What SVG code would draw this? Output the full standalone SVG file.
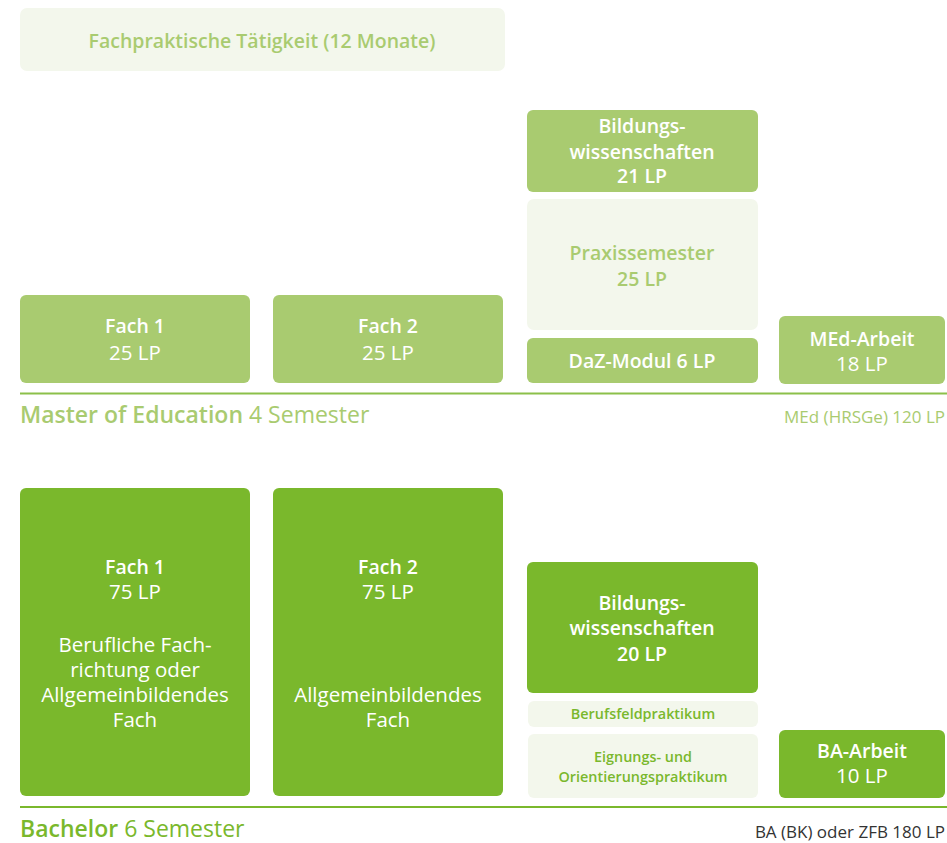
<svg xmlns="http://www.w3.org/2000/svg" width="947" height="843" viewBox="0 0 947 843">
<style>
text{font-family:"Open Sans",Lato,"Liberation Sans",sans-serif;text-anchor:middle}
.m{fill:#a9cb70}
.b{fill:#7ab82c}
.l{fill:#f3f7ec}
.w{fill:#ffffff}
.tb{font-weight:600;font-size:19.5px}
.tn{font-weight:400;font-size:20.5px}
.gm{fill:#a9cb70}
.gb{fill:#7ab82c}
.sm{font-weight:600;font-size:14.4px}
</style>
<rect width="947" height="843" fill="#ffffff"/>
<g id="fachpraxis">
<rect class="l" x="20" y="8" width="485" height="63" rx="7"/>
<text class="tb gm" x="262" y="48">Fachpraktische Tätigkeit (12 Monate)</text>
</g>
<g id="m-fach1">
<rect class="m" x="20" y="295" width="230" height="88" rx="6"/>
<text class="tb w" x="135" y="333">Fach 1</text>
<text class="tn w" x="135" y="360">25 LP</text>
</g>
<g id="m-fach2">
<rect class="m" x="273" y="295" width="230" height="88" rx="6"/>
<text class="tb w" x="388" y="333">Fach 2</text>
<text class="tn w" x="388" y="360">25 LP</text>
</g>
<g id="m-bildung">
<rect class="m" x="527" y="110" width="231" height="82" rx="6"/>
<text class="tb w" x="642" y="133">Bildungs-</text>
<text class="tb w" x="642" y="159">wissenschaften</text>
<text class="tb w" x="642" y="183">21 LP</text>
</g>
<g id="m-praxis">
<rect class="l" x="527" y="199" width="231" height="131" rx="7"/>
<text class="tb gm" x="642" y="260">Praxissemester</text>
<text class="tb gm" x="642" y="286">25 LP</text>
</g>
<g id="m-daz">
<rect class="m" x="527" y="338" width="231" height="45" rx="6"/>
<text class="tb w" x="642" y="368">DaZ-Modul 6 LP</text>
</g>
<g id="m-arbeit">
<rect class="m" x="779" y="316" width="166" height="68" rx="6"/>
<text class="tb w" x="862" y="346">MEd-Arbeit</text>
<text class="tn w" x="862" y="371">18 LP</text>
</g>
<g id="b-fach1">
<rect class="b" x="20" y="488" width="230" height="308" rx="6"/>
<text class="tb w" x="135" y="574">Fach 1</text>
<text class="tn w" x="135" y="599">75 LP</text>
<text class="tn w" x="135" y="652">Berufliche Fach-</text>
<text class="tn w" x="135" y="677">richtung oder</text>
<text class="tn w" x="135" y="702">Allgemeinbildendes</text>
<text class="tn w" x="135" y="727">Fach</text>
</g>
<g id="b-fach2">
<rect class="b" x="273" y="488" width="230" height="308" rx="6"/>
<text class="tb w" x="388" y="574">Fach 2</text>
<text class="tn w" x="388" y="599">75 LP</text>
<text class="tn w" x="388" y="702">Allgemeinbildendes</text>
<text class="tn w" x="388" y="727">Fach</text>
</g>
<g id="b-bildung">
<rect class="b" x="527" y="562" width="231" height="131" rx="6"/>
<text class="tb w" x="642" y="610">Bildungs-</text>
<text class="tb w" x="642" y="635">wissenschaften</text>
<text class="tb w" x="642" y="661">20 LP</text>
</g>
<g id="b-berufsfeld">
<rect class="l" x="528" y="701" width="230" height="26" rx="6"/>
<text class="sm gb" x="643" y="719">Berufsfeldpraktikum</text>
</g>
<g id="b-eignung">
<rect class="l" x="528" y="734" width="230" height="64" rx="6"/>
<text class="sm gb" x="643" y="762">Eignungs- und</text>
<text class="sm gb" x="643" y="782">Orientierungspraktikum</text>
</g>
<g id="b-arbeit">
<rect class="b" x="779" y="730" width="166" height="68" rx="6"/>
<text class="tb w" x="862" y="758">BA-Arbeit</text>
<text class="tn w" x="862" y="783">10 LP</text>
</g>
<g id="connectors">
<line x1="20" y1="393.5" x2="947" y2="393.5" stroke="#8cc04a" stroke-width="2"/>
<line x1="20" y1="807" x2="947" y2="807" stroke="#7ab82c" stroke-width="2"/>
</g>
<g id="labels">
<text x="20" y="423" style="text-anchor:start;font-size:23px" fill="#a9cb70"><tspan font-weight="600">Master of Education</tspan> 4 Semester</text>
<text x="945" y="423" style="text-anchor:end;font-size:17px" fill="#a9cb70">MEd (HRSGe) 120 LP</text>
<text x="20" y="837" style="text-anchor:start;font-size:23px" fill="#7ab82c"><tspan font-weight="600">Bachelor</tspan> 6 Semester</text>
<text x="945" y="838" style="text-anchor:end;font-size:17px" fill="#333333">BA (BK) oder ZFB 180 LP</text>
</g>
</svg>
